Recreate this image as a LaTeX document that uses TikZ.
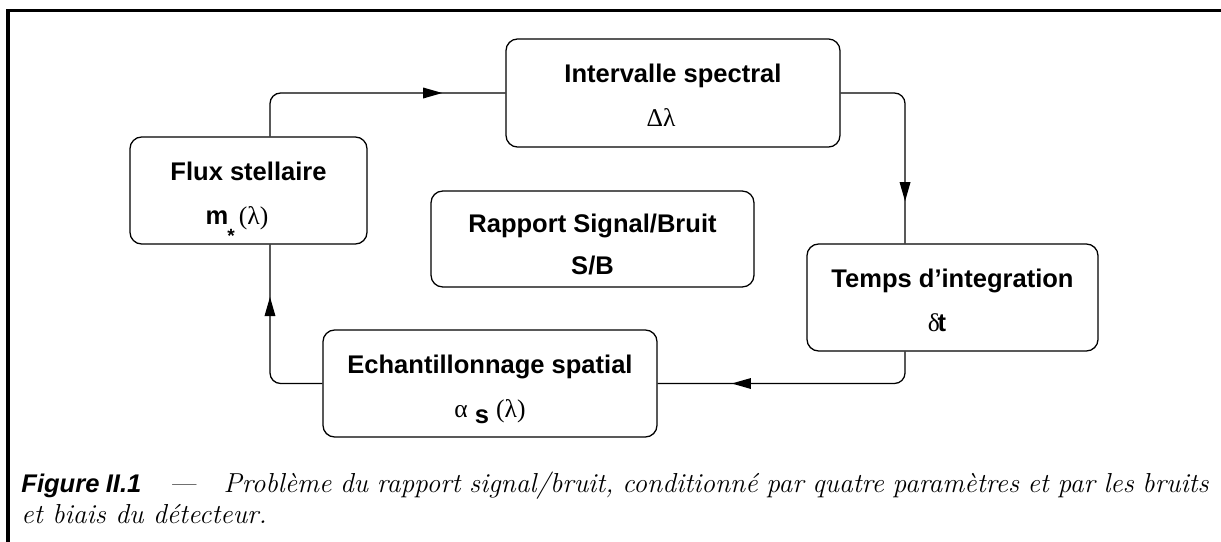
\documentclass[tikz,border=0pt]{standalone}
\usepackage{fontspec}
\newfontfamily\helv{Liberation Sans}
\newfontfamily\symb{Liberation Serif}
\usetikzlibrary{arrows.meta}
\usetikzlibrary{decorations.markings}
\tikzset{
    mybox/.style = {rectangle, rounded corners=5.5pt, line width=0.6pt, draw=black, align=center, inner sep=0pt, font=\helv\bfseries\fontsize{12}{14.2}\selectfont, text=black},
    edgea/.style = {-, line width=0.6pt, black, rounded corners=5pt, decoration={markings, mark=at position #1 with {\arrow{Triangle[length=9pt,width=5pt]}}}, postaction={decorate}},
    framel/.style = {line width=1.7pt, black},
    capt/.style = {anchor=base west, inner sep=0pt, text width=558pt, align=justify, font=\fontsize{12.9}{14.6}\selectfont\itshape}
}
\newcommand{\gk}[1]{{\symb\mdseries #1}}
\newcommand{\toprow}{\rule{0pt}{14pt}}
\newcommand{\botrow}{\rule[-3pt]{0pt}{3pt}}

\begin{document}
\begin{tikzpicture}[x=0.47pt,y=-0.47pt]
\path[use as bounding box] (0,0) rectangle (1221,542);
%
\node[mybox, minimum width=111.4pt, minimum height=50.3pt] at (248.5,190.5) (flux) {\toprow Flux stellaire\\[6.5pt]\hbox{m\hspace{-0.5pt}\smash{\raisebox{-8.5pt}{\fontsize{9}{9}\selectfont *}}\hspace{2pt}\gk{(λ)}\botrow\kern10.8pt}};
\node[mybox, minimum width=157pt, minimum height=50.8pt] at (673,93) (intv) {\toprow Intervalle spectral\\[6.5pt]\hbox{\gk{Δλ}\botrow\kern11.3pt}};
\node[mybox, minimum width=151.8pt, minimum height=45.1pt] at (592.5,239) (rapp) {\toprow Rapport Signal/Bruit\\[5.5pt]S/B};
\node[mybox, minimum width=136.8pt, minimum height=50.3pt] at (952.5,297.5) (temps) {\toprow Temps d’integration\\[6.5pt]\hbox{\gk{δ}\hspace{-1pt}t\botrow\kern14.6pt}};
\node[mybox, minimum width=157pt, minimum height=50.3pt] at (490,383.5) (echt) {\toprow Echantillonnage spatial\\[6.5pt]\gk{α} \raisebox{-3pt}{s} \gk{(λ)}\botrow};
%
\draw[edgea=0.77] ([xshift=10.1pt]flux.north) |- (intv.west);
\draw[edgea=0.80] (intv.east) -| ([xshift=-22.3pt]temps.north);
\draw[edgea=0.73] ([xshift=-22.3pt]temps.south) |- (echt.east);
\draw[edgea=0.72] (echt.west) -| ([xshift=10.1pt]flux.south);
%
\draw[framel] (8,542) -- (8,10.5) -- (1221,10.5);
\node[capt] at (21,492) (cap) {{\helv\bfseries\itshape\fontsize{12}{14.6}\selectfont Figure II.1}\quad---\quad Problème du rapport signal/bruit, conditionné par quatre paramètres et par les bruits\linebreak et biais du détecteur.};

\end{tikzpicture}
\end{document}
